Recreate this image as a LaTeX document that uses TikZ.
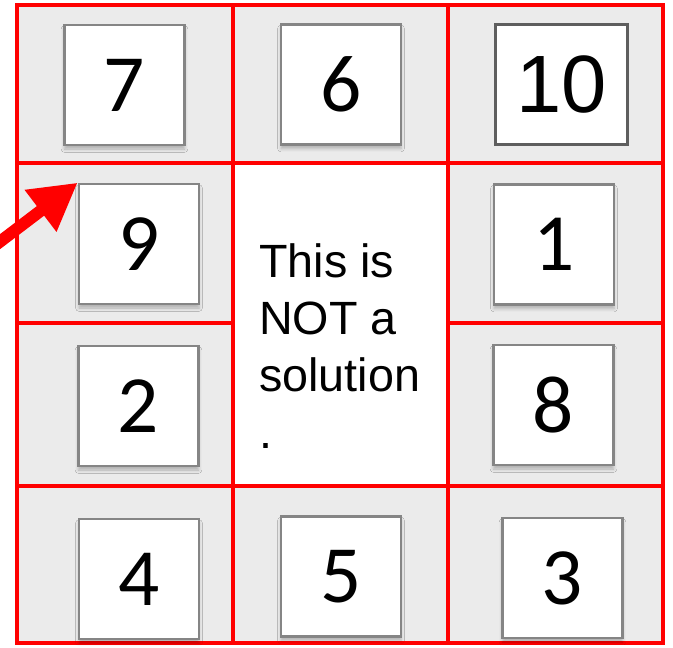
\documentclass[tikz,border=0pt]{standalone}
\usepackage{fontspec}
\setmainfont{Liberation Sans}
\newfontfamily\numfont{Carlito}
\newfontfamily\arialfont{Liberation Sans}
\usetikzlibrary{shadows.blur,arrows.meta}
\definecolor{cellgray}{HTML}{EBEBEB}
\definecolor{boxgray}{HTML}{858585}
\definecolor{darkbox}{HTML}{5E5E5E}
\definecolor{gridred}{HTML}{FF0000}
\tikzset{
  gridline/.style={draw=gridred, line width=3.5pt},
  numbox/.style={draw=boxgray, line width=2pt, fill=white,
    minimum width=90pt, minimum height=90pt, inner sep=0pt,
    blur shadow={shadow xshift=0pt, shadow yshift=-3pt, shadow blur radius=2.5pt, shadow opacity=25},
    font=\numfont\fontsize{61}{61}\selectfont},
  widebox/.style={draw=darkbox, line width=2.2pt, fill=white,
    minimum width=99pt, minimum height=90pt, inner sep=0pt,
    font=\arialfont\fontsize{61}{61}\selectfont},
  notetext/.style={align=left, inner sep=0pt, anchor=north west,
    font=\arialfont\fontsize{35}{42.75}\selectfont},
  pointer/.style={draw=gridred, line width=9pt, -{Triangle[length=35pt,width=37pt]}}
}
\begin{document}
\begin{tikzpicture}[x=0.75pt,y=-0.75pt]
\useasboundingbox (0,0) rectangle (673,647);
% cells
\fill[cellgray] (17,5) rectangle (663,643);
\fill[white] (233,163) rectangle (448,486);
% red grid
\draw[gridline] (17,5) rectangle (663,643);
\draw[gridline] (233,5) -- (233,643);
\draw[gridline] (448,5) -- (448,643);
\draw[gridline] (17,163) -- (663,163);
\draw[gridline] (17,323) -- (233,323);
\draw[gridline] (448,323) -- (663,323);
\draw[gridline] (17,486) -- (663,486);
% number boxes
\node[numbox] (b7) at (124.5,85) {7};
\node[numbox] (b6) at (341,84.5) {6};
\node[widebox] (b10) at (561.5,84.5) {10};
\node[numbox] (b9) at (139,244) {9};
\node[numbox] (b1) at (554,244.5) {1};
\node[numbox] (b2) at (138.5,406) {2};
\node[numbox] (b8) at (553.5,405) {8};
\node[numbox] (b4) at (139,579) {4};
\node[numbox] (b5) at (341,576.5) {5};
\node[numbox] (b3) at (562.5,578) {3};
% center text
\node[notetext] (note) at (259,243) {This is\\NOT a\\solution\\.};
% arrow
\coordinate (arrowstart) at (-6,246.2);
\draw[pointer] (arrowstart) -- (b9.north west);
\end{tikzpicture}
\end{document}
